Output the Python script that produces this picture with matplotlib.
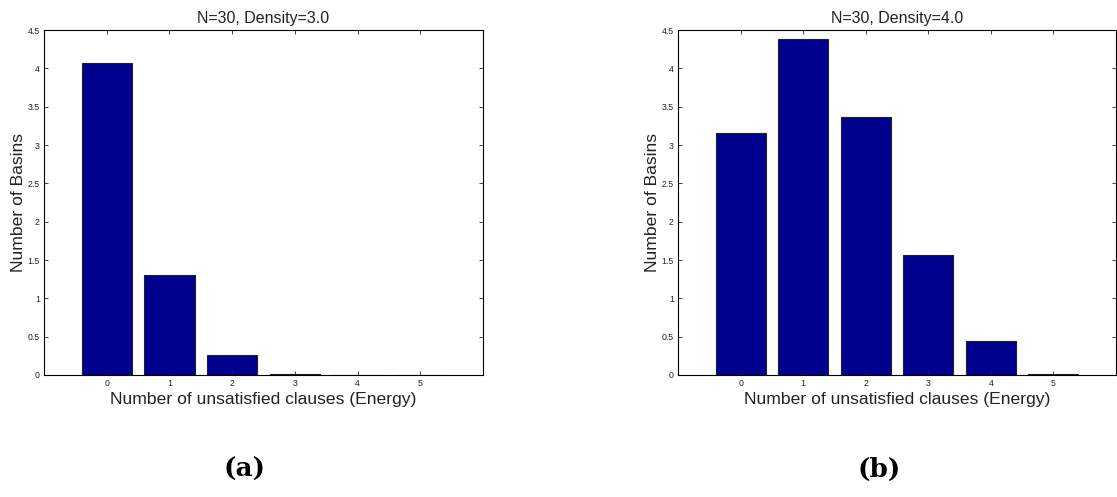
import matplotlib
matplotlib.use("Agg")
import matplotlib.pyplot as plt

energy = [0, 1, 2, 3, 4, 5]
basins_d3 = [4.07, 1.30, 0.26, 0.012, 0.004, 0.002]
basins_d4 = [3.16, 4.38, 3.37, 1.57, 0.44, 0.012]
titles = ["N=30, Density=3.0", "N=30, Density=4.0"]
panel_labels = ["(a)", "(b)"]
yticks = [0, 0.5, 1, 1.5, 2, 2.5, 3, 3.5, 4, 4.5]
ytick_labels = ["0", "0.5", "1", "1.5", "2", "2.5", "3", "3.5", "4", "4.5"]

plt.rcParams["font.family"] = ["Liberation Sans", "DejaVu Sans"]

fig = plt.figure(figsize=(11.17, 4.97), dpi=100)
ax_pos = [[0.0394, 0.2455, 0.393, 0.694], [0.607, 0.2455, 0.392, 0.694]]
label_x = [0.219, 0.787]

for i, vals in enumerate([basins_d3, basins_d4]):
    ax = fig.add_axes(ax_pos[i])
    ax.bar(energy, vals, width=0.8, color="#00008f", edgecolor="#222222", linewidth=0.8)
    ax.set_xlim(-1, 6)
    ax.set_ylim(0, 4.5)
    ax.set_xticks(energy)
    ax.set_yticks(yticks)
    ax.set_yticklabels(ytick_labels)
    ax.tick_params(direction="in", top=True, right=True, labelsize=6.3, length=3,
                   width=0.6, colors="#222222", pad=3)
    for s in ax.spines.values():
        s.set_linewidth(0.8)
    ax.set_title(titles[i], fontsize=11.5, color="#222222", pad=5)
    ax.set_xlabel("Number of unsatisfied clauses (Energy)", fontsize=12.6,
                  color="#222222", labelpad=3)
    ax.set_ylabel("Number of Basins", fontsize=12.6, color="#222222", labelpad=1)
    fig.text(label_x[i], 0.055, panel_labels[i], fontsize=19, fontweight="bold",
             family=["DejaVu Serif"], ha="center", va="center")

fig.savefig("out.png", dpi=100)
